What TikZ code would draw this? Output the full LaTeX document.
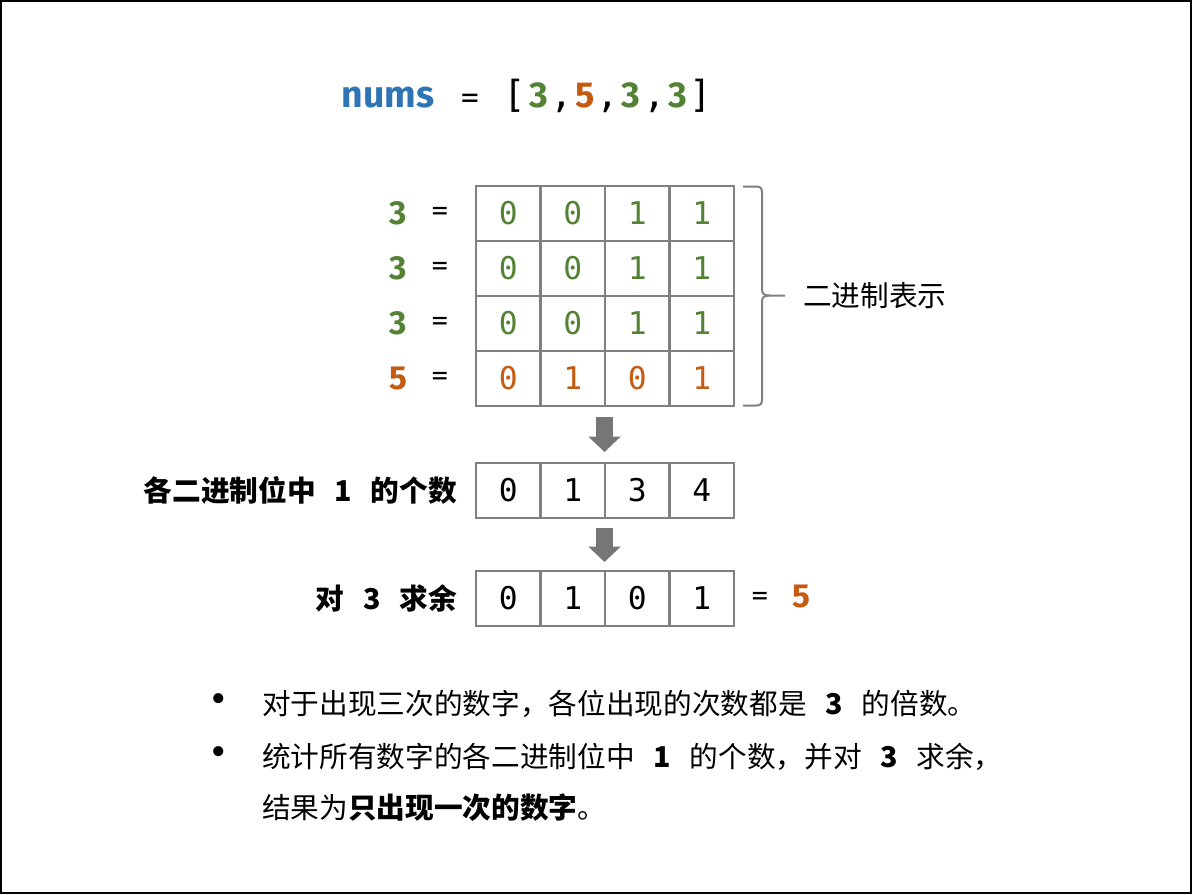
\documentclass[tikz,border=0pt]{standalone}
\usepackage{fontspec}
\setmainfont{DejaVu Sans}
\newfontfamily\cjk{Noto Sans CJK SC}
\newfontfamily\monof{DejaVu Sans Mono}
\newfontfamily\firab{Fira Sans}
\usetikzlibrary{arrows.meta}
\definecolor{cblue}{RGB}{46,117,182}
\definecolor{cgreen}{RGB}{84,130,53}
\definecolor{corange}{RGB}{197,90,17}
\definecolor{cgray}{RGB}{128,128,128}
\definecolor{agray}{RGB}{118,118,118}
\newcommand{\tb}[1]{\makebox[17.4pt]{#1}}
\newcommand{\tdig}[2]{\tb{\firab\bfseries\fontsize{27}{27}\selectfont\textcolor{#1}{#2}}}
\tikzset{
  cell/.style={draw=cgray, line width=1.5pt, minimum width=48.4pt, minimum height=41.25pt, inner sep=0pt, font=\monof\fontsize{23.5}{23.5}\selectfont},
  lab/.style={inner sep=0pt, font=\firab\bfseries\fontsize{25}{25}\selectfont},
  eqs/.style={inner sep=0pt, font=\monof\fontsize{20}{20}\selectfont},
  cjklab/.style={inner sep=0pt, font=\cjk\bfseries\fontsize{21.5}{21.5}\selectfont},
  body/.style={inner sep=0pt, font=\cjk\fontsize{21.5}{21.5}\selectfont},
  bul/.style={inner sep=0pt, font=\fontsize{26}{26}\selectfont},
  blockarrow/.style={draw=agray, line width=12.75pt, -{Triangle[width=23.5pt,length=11.5pt]}},
}
\begin{document}
\begin{tikzpicture}[x=0.75pt,y=-0.75pt]
\useasboundingbox (0,0) rectangle (1192,894);
\draw[line width=1.5pt] (1,1) rectangle (1191,893);

% title
\node[anchor=base, inner sep=0pt, font=\firab\bfseries\fontsize{28}{28}\selectfont, text=cblue] (tnums) at (388,107) {nums};
\node[anchor=base, inner sep=0pt, font=\monof\fontsize{22}{22}\selectfont] (teq) at (470,107) {=};
\node[anchor=base, inner sep=0pt, font=\monof\fontsize{28}{28}\selectfont] (tlist) at (608,107)
  {\tb{[}\tdig{cgreen}{3}\tb{,}\tdig{corange}{5}\tb{,}\tdig{cgreen}{3}\tb{,}\tdig{cgreen}{3}\tb{]}};

% binary grid
\foreach \r/\y/\col/\num/\a/\b/\c/\d in {1/213.5/cgreen/3/0/0/1/1, 2/268.5/cgreen/3/0/0/1/1, 3/323.5/cgreen/3/0/0/1/1, 4/378.5/corange/5/0/1/0/1}{
  \node[lab, text=\col] (l\r) at (398,\y) {\num};
  \node[eqs] (e\r) at (440,\y) {=};
  \node[cell, text=\col] (c\r1) at (508.25,\y) {\a};
  \node[cell, text=\col] (c\r2) at (572.75,\y) {\b};
  \node[cell, text=\col] (c\r3) at (637.25,\y) {\c};
  \node[cell, text=\col] (c\r4) at (701.75,\y) {\d};
}

% brace
\draw[cgray, line width=1.5pt, line join=round]
  (743,186.5) -- (756,186.5) .. controls (760.5,186.5) and (762,188) .. (762,192.5)
  -- (762,289) .. controls (762,294) and (764,295.5) .. (770,295.5) -- (785,295.5);
\draw[cgray, line width=1.5pt, line join=round]
  (770,295.5) .. controls (764,295.5) and (762,297) .. (762,302)
  -- (762,399.5) .. controls (762,404) and (760.5,405.5) .. (756,405.5) -- (743,405.5);
\node[body, anchor=west] (bin) at (803,296) {二进制表示};

% count row
\node[cell] (s1) at (508.25,490.5) {0};
\node[cell] (s2) at (572.75,490.5) {1};
\node[cell] (s3) at (637.25,490.5) {3};
\node[cell] (s4) at (701.75,490.5) {4};
\node[cjklab, anchor=east] (slab) at (457,490.5) {各二进制位中\hspace{14pt}1\hspace{14pt}的个数};

% mod row
\node[cell] (m1) at (508.25,598.5) {0};
\node[cell] (m2) at (572.75,598.5) {1};
\node[cell] (m3) at (637.25,598.5) {0};
\node[cell] (m4) at (701.75,598.5) {1};
\node[cjklab, anchor=east] (mlab) at (457,598.5) {对\hspace{14pt}3\hspace{14pt}求余};
\node[eqs] (meq) at (760,598.5) {=};
\node[lab, text=corange] (mres) at (801,597) {5};

% arrows
\coordinate (a1s) at (604.5,417);
\coordinate (a1e) at (604.5,452);
\coordinate (a2s) at (604.5,528);
\coordinate (a2e) at (604.5,562);
\draw[blockarrow] (a1s) -- (a1e);
\draw[blockarrow] (a2s) -- (a2e);

% bullets
\node[bul] (b1) at (219,703) {•};
\node[body, anchor=west] (t1) at (262,704) {对于出现三次的数字，各位出现的次数都是\hspace{14pt}\textbf{3}\hspace{14pt}的倍数。};
\node[bul] (b2) at (219,756) {•};
\node[body, anchor=west] (t2) at (262,757) {统计所有数字的各二进制位中\hspace{14pt}\textbf{1}\hspace{14pt}的个数，并对\hspace{14pt}\textbf{3}\hspace{14pt}求余，};
\node[body, anchor=west] (t3) at (262,808) {结果为\textbf{只出现一次的数字}。};
\end{tikzpicture}
\end{document}
